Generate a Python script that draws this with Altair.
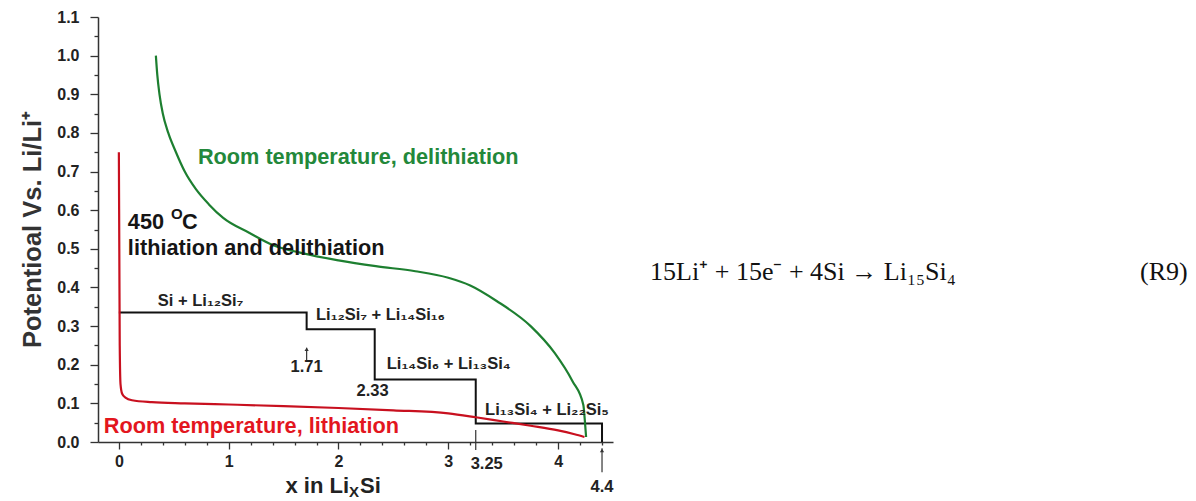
import altair as alt
import pandas as pd

# ---------------- data ----------------
green_x = [0.337, 0.35, 0.37, 0.40, 0.45, 0.52, 0.60, 0.70, 0.82, 0.95, 1.19, 1.40, 1.65,
           2.0, 2.34, 2.70, 3.00, 3.20, 3.44, 3.75, 3.97, 4.13, 4.23, 4.245, 4.255]
green_y = [1.0, 0.95, 0.90, 0.85, 0.80, 0.75, 0.70, 0.655, 0.615, 0.58, 0.541, 0.510, 0.49,
           0.47, 0.455, 0.442, 0.425, 0.405, 0.365, 0.30, 0.23, 0.158, 0.096, 0.05, 0.013]

red_x = [0.0, 0.004, 0.008, 0.015, 0.03, 0.06, 0.12, 0.3, 0.6, 1.0, 1.5, 2.0, 2.5,
         3.0, 3.25, 3.5, 3.75, 4.0, 4.15, 4.24]
red_y = [0.75, 0.5, 0.25, 0.15, 0.125, 0.115, 0.108, 0.103, 0.100, 0.097, 0.093, 0.088,
         0.082, 0.074, 0.064, 0.053, 0.042, 0.030, 0.020, 0.013]

step_x = [0.0, 1.71, 1.71, 2.33, 2.33, 3.25, 3.25, 4.4, 4.4]
step_y = [0.335, 0.335, 0.292, 0.292, 0.162, 0.162, 0.048, 0.048, 0.0]

x_tick_values = [0, 0.2, 0.4, 0.6, 0.8, 1, 1.2, 1.4, 1.6, 1.8, 2, 2.2, 2.4, 2.6, 2.8,
                 3, 3.2, 3.4, 3.6, 3.8, 4, 4.2, 4.4]
y_tick_values = [0, 0.05, 0.1, 0.15, 0.2, 0.25, 0.3, 0.35, 0.4, 0.45, 0.5, 0.55, 0.6,
                 0.65, 0.7, 0.75, 0.8, 0.85, 0.9, 0.95, 1.0, 1.05, 1.1]

# phase labels (left anchored)
phase_text = ["Si + Li₁₂Si₇", "Li₁₂Si₇ + Li₁₄Si₁₆", "Li₁₄Si₆ + Li₁₃Si₄", "Li₁₃Si₄ + Li₂₂Si₅"]
phase_x = [0.355, 1.795, 2.44, 3.335]
phase_y = [0.365, 0.329, 0.202, 0.083]

# composition numbers (centered)
num_text = ["1.71", "2.33", "3.25", "4.4"]
num_x = [1.71, 2.31, 3.35, 4.4]
num_y = [0.194, 0.132, -0.057, -0.117]

# marker lines at compositions
mark_x = [1.71, 3.25, 4.4]
mark_y = [0.244, 0.031, -0.016]
mark_y2 = [0.210, -0.021, -0.078]
arrow_x = [1.71, 4.4]
arrow_y = [0.240, -0.022]

# big annotations
ann_green = ["Room temperature, delithiation"]
ann_green_x = [0.72]
ann_green_y = [0.738]
ann_red = ["Room temperature, lithiation"]
ann_red_x = [-0.137]
ann_red_y = [0.041]
ann_black = ["450", "C", "lithiation and delithiation"]
ann_black_x = [0.082, 0.574, 0.082]
ann_black_y = [0.570, 0.570, 0.502]
ann_sup = ["O"]
ann_sup_x = [0.474]
ann_sup_y = [0.590]

# x-axis title pieces
xt_text = ["x in Li", "Si"]
xt_x = [2.096, 2.196]
xt_y = [-0.1321, -0.1321]
xt_sub = ["X"]
xt_sub_x = [2.096]
xt_sub_y = [-0.1425]

# reaction equation on the right
eq_text = ["15Li⁺ + 15e⁻ + 4Si → Li₁₅Si₄", "(R9)"]
eq_x = [4.838, 9.30]
eq_y = [0.44, 0.44]

# ---------------- chart ----------------
SANS = "Liberation Sans"
xs = alt.Scale(domain=[-0.19, 4.5], nice=False, zero=False)
ys = alt.Scale(domain=[0, 1.1], nice=False, zero=False)

x_major = "abs(datum.value - round(datum.value)) < 0.001"
y_major = "abs(datum.value * 10 - round(datum.value * 10)) < 0.001"

x_axis = alt.Axis(
    values=x_tick_values, grid=False, title=None,
    labelExpr=f"{x_major} ? format(datum.value, 'd') : ''",
    tickSize={"condition": {"test": x_major, "value": 7}, "value": 3},
    labelPadding=4, labelFont=SANS, labelFontWeight="bold", labelFontSize=16,
    labelColor="#222", domainColor="#333", tickColor="#333", domainWidth=1.5,
    tickWidth=1.3, labelOverlap=False, labelFlush=False,
)
y_axis = alt.Axis(
    values=y_tick_values, grid=False, title="Potentioal Vs. Li/Li⁺",
    labelExpr=f"{y_major} ? format(datum.value, '.1f') : ''",
    tickSize={"condition": {"test": y_major, "value": 8}, "value": 4},
    labelPadding=11, labelFont=SANS, labelFontWeight="bold", labelFontSize=16,
    labelColor="#222", domainColor="#333", tickColor="#333", domainWidth=1.5,
    tickWidth=1.3, labelOverlap=False, labelFlush=False,
    titleFont=SANS, titleFontWeight="bold", titleFontSize=25.5, titleColor="#333",
    titleX=-66, titleY=212, titleAngle=270, titleBaseline="middle", titleAlign="center",
)

X = alt.X("x:Q", scale=xs, axis=x_axis)
Y = alt.Y("y:Q", scale=ys, axis=y_axis)


def df(xv, yv, **extra):
    d = {"x": xv, "y": yv}
    d.update(extra)
    return pd.DataFrame(d)


green_df = df(green_x, green_y, o=list(range(len(green_x))))
red_df = df(red_x, red_y, o=list(range(len(red_x))))
step_df = df(step_x, step_y, o=list(range(len(step_x))))

green = alt.Chart(green_df).mark_line(color="#1d7f30", strokeWidth=2.2, interpolate="monotone").encode(
    x=X, y=Y, order="o:Q")
red = alt.Chart(red_df).mark_line(color="#c8101f", strokeWidth=2.2, interpolate="monotone").encode(
    x=X, y=Y, order="o:Q")
step = alt.Chart(step_df).mark_line(color="#111", strokeWidth=2).encode(x=X, y=Y, order="o:Q")

marks = alt.Chart(df(mark_x, mark_y, y2=mark_y2)).mark_rule(color="#333", strokeWidth=1.2).encode(
    x=X, y=Y, y2="y2:Q")
arrows = alt.Chart(df(arrow_x, arrow_y)).mark_point(
    shape="triangle-up", filled=True, color="#333", size=18, opacity=1).encode(x=X, y=Y)


def texts(xv, yv, tv, **kw):
    return alt.Chart(df(xv, yv, t=tv)).mark_text(**kw).encode(x=X, y=Y, text="t:N")


phase = texts(phase_x, phase_y, phase_text, align="left", baseline="middle",
              font=SANS, fontWeight="bold", fontSize=16.5, color="#222")
nums = texts(num_x, num_y, num_text, align="center", baseline="middle",
             font=SANS, fontWeight="bold", fontSize=16.5, color="#222")
g_ann = texts(ann_green_x, ann_green_y, ann_green, align="left", baseline="middle",
              font=SANS, fontWeight="bold", fontSize=21.7, color="#23883a")
r_ann = texts(ann_red_x, ann_red_y, ann_red, align="left", baseline="middle",
              font=SANS, fontWeight="bold", fontSize=21.7, color="#e3161e")
b_ann = texts(ann_black_x, ann_black_y, ann_black, align="left", baseline="middle",
              font=SANS, fontWeight="bold", fontSize=21.7, color="#151515")
b_sup = texts(ann_sup_x, ann_sup_y, ann_sup, align="left", baseline="middle",
              font=SANS, fontWeight="bold", fontSize=15, color="#151515")
xt = texts(xt_x[:1], xt_y[:1], xt_text[:1], align="right", baseline="alphabetic",
           font=SANS, fontWeight="bold", fontSize=22, color="#222")
xt2 = texts(xt_x[1:], xt_y[1:], xt_text[1:], align="left", baseline="alphabetic",
            font=SANS, fontWeight="bold", fontSize=22, color="#222")
xsub = texts(xt_sub_x, xt_sub_y, xt_sub, align="left", baseline="alphabetic",
             font=SANS, fontWeight="bold", fontSize=15, color="#222")
eq = texts(eq_x, eq_y, eq_text, align="left", baseline="middle",
           font="Liberation Serif", fontSize=26, color="#111")

chart = alt.layer(
    step, red, green, marks, arrows, phase, nums, g_ann, r_ann, b_ann, b_sup,
    xt, xt2, xsub, eq,
).properties(
    width=515, height=425,
    autosize=alt.AutoSizeParams(type="none"),
    padding={"left": 90, "top": 9, "right": 575, "bottom": 58},
).configure_view(stroke=None)

chart.save("out.html", embed_options={"renderer": "svg", "actions": False})
